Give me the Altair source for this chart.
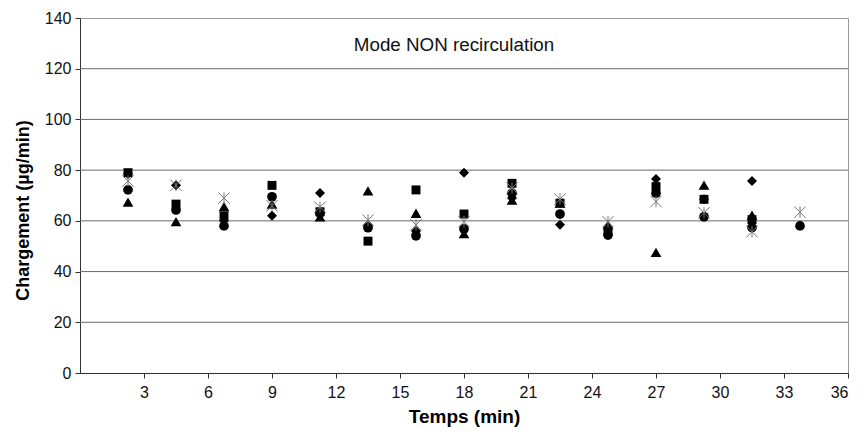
import altair as alt
import pandas as pd

times = [2.25, 4.5, 6.75, 9, 11.25, 13.5, 15.75, 18, 20.25, 22.5, 24.75, 27, 29.25, 31.5, 33.75]
diamond = [78.5, 74, 60, 62, 71, 58, 56, 79, 69, 58.5, 57, 76.5, 68.5, 75.7, None]
square = [79, 66.6, 62, 74, 63.6, 52, 72.2, 62.7, 74.8, 67, 56, 73.5, 68.5, 60.5, None]
triangle = [67.4, 59.7, 65.6, 66.6, 61.6, 71.8, 63, 55, 68.2, 67, 58.4, 47.6, 74.1, 62.3, None]
star = [75.7, 74, 69, 66, 65.4, 60.3, 58.4, 59.7, 73, 68.6, 59.7, 67.6, 63.2, 55.7, 63.4]
circle = [72.2, 64.3, 58, 69.5, 63, 57.3, 54.1, 56.8, 70.9, 62.7, 54.4, 70.9, 61.6, 57.4, 58]

x_ticks = [3, 6, 9, 12, 15, 18, 21, 24, 27, 30, 33, 36]
y_ticks = [0, 20, 40, 60, 80, 100, 120, 140]
grid_vals = [20, 40, 60, 80, 100, 120]

FONT = "Liberation Sans"
W, H = 768, 355


def frame(vals):
    rows = [{"t": t, "v": v} for t, v in zip(times, vals) if v is not None]
    return pd.DataFrame(rows)


xsc = alt.Scale(domain=[0, 36], nice=False, zero=False)
ysc = alt.Scale(domain=[0, 140], nice=False)

x_axis = alt.Axis(values=x_ticks, title="Temps (min)", grid=False, labelFont=FONT, labelFontSize=16,
                  labelColor="#111", titleFont=FONT, titleFontSize=19, titleFontWeight="bold",
                  titleColor="#000", domainColor="#333", tickColor="#333", tickSize=5,
                  labelPadding=6, titlePadding=7)
y_axis = alt.Axis(values=y_ticks, title="Chargement (µg/min)", grid=False, labelFont=FONT,
                  labelFontSize=16, labelColor="#111", titleFont=FONT, titleFontSize=18,
                  titleFontWeight="bold", titleColor="#000", domainColor="#333", tickColor="#333",
                  tickSize=5, labelPadding=4, titlePadding=12, titleY=192)

grid = alt.Chart(pd.DataFrame({"g": grid_vals})).mark_rule(color="#6a6a6a", strokeWidth=1).encode(
    y=alt.Y("g:Q", scale=ysc, axis=y_axis)
)

X = alt.X("t:Q", scale=xsc, axis=x_axis)
Y = alt.Y("v:Q", scale=ysc, axis=y_axis)

d_layer = alt.Chart(frame(diamond)).mark_point(shape="diamond", filled=True, color="black", size=100, opacity=1).encode(x=X, y=Y)
s_layer = alt.Chart(frame(square)).mark_point(shape="square", filled=True, color="black", size=80, opacity=1).encode(x=X, y=Y)
t_layer = alt.Chart(frame(triangle)).mark_point(shape="triangle-up", filled=True, color="black", size=115, opacity=1).encode(x=X, y=Y)
c_layer = alt.Chart(frame(circle)).mark_point(shape="circle", filled=True, color="black", size=95, opacity=1).encode(x=X, y=Y)
x_layer = alt.Chart(frame(star)).mark_point(
    shape="M-1,-1L1,1M-1,1L1,-1M0,-1L0,1", filled=False, color="#777", strokeWidth=1, size=130, opacity=1
).encode(x=X, y=Y)

title = alt.Chart(pd.DataFrame({"a": [0]})).mark_text(
    font=FONT, fontSize=18.8, color="#111", align="center", baseline="middle"
).encode(x=alt.value(374), y=alt.value(27), text=alt.value("Mode NON recirculation"))

chart = alt.layer(grid, d_layer, s_layer, t_layer, c_layer, x_layer, title).properties(
    width=W, height=H,
    autosize=alt.AutoSizeParams(type="none"),
    padding={"left": 80, "top": 18, "right": 15, "bottom": 66},
    background="white",
).configure_view(stroke="#999", strokeWidth=1)

chart.save("out.html", embed_options={"renderer": "svg", "actions": False})
